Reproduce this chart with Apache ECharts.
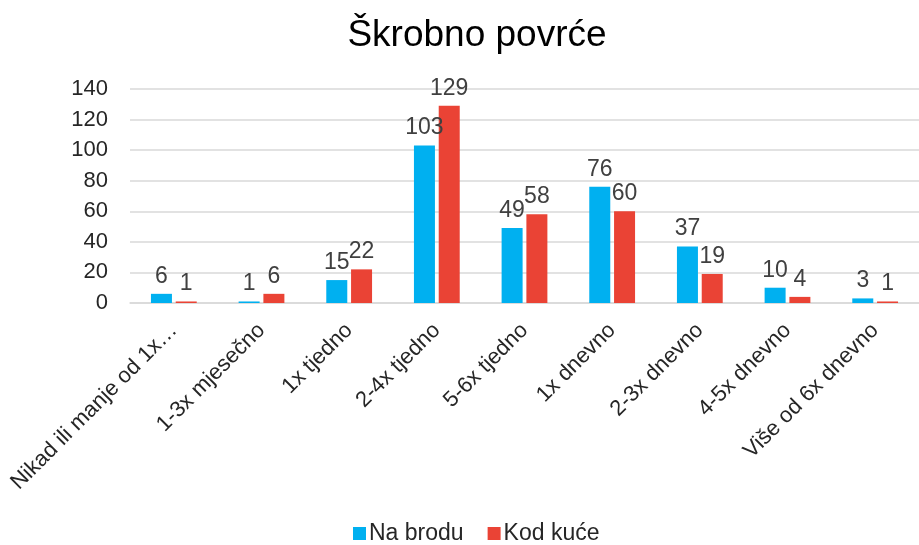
<!DOCTYPE html>
<html>
<head>
<meta charset="utf-8">
<script src="https://cdn.jsdelivr.net/npm/echarts@6/dist/echarts.min.js"></script>
<style>
  html, body { margin: 0; padding: 0; background: #fff; }
  #chart { width: 919px; height: 545px; }
</style>
</head>
<body>
<div id="chart"></div>
<script>
// podaci
var categories = ['Nikad ili manje od 1x…', '1-3x mjesečno', '1x tjedno', '2-4x tjedno', '5-6x tjedno',
  '1x dnevno', '2-3x dnevno', '4-5x dnevno', 'Više od 6x dnevno'];
var naBrodu = [6, 1, 15, 103, 49, 76, 37, 10, 3];
var kodKuce = [1, 6, 22, 129, 58, 60, 19, 4, 1];
var seriesNames = ['Na brodu', 'Kod kuće'];
var yTicks = [0, 20, 40, 60, 80, 100, 120, 140];

var font = 'Liberation Sans, Arial, sans-serif';
var chart = echarts.init(document.getElementById('chart'), null, { renderer: 'canvas' });

var labelStyle = {
  show: true,
  position: 'top',
  distance: 6,
  color: '#404040',
  fontSize: 23,
  fontFamily: font
};

var option = {
  animation: false,
  backgroundColor: '#fff',
  color: ['#00B0F0', '#EA4335'],
  title: {
    text: 'Škrobno povrće',
    left: 472,
    top: 12,
    textAlign: 'center',
    textStyle: { fontSize: 37, fontWeight: 'normal', color: '#000', fontFamily: font }
  },
  legend: {
    data: seriesNames,
    left: 348,
    top: 517,
    itemWidth: 13,
    itemHeight: 13,
    itemGap: 24,
    icon: 'rect',
    textStyle: { fontSize: 23, color: '#262626', fontFamily: font, padding: [0, 0, 0, -2] }
  },
  grid: {
    left: 130,
    right: -7,
    top: 89,
    height: 214,
    containLabel: false
  },
  xAxis: {
    type: 'category',
    data: categories,
    axisLine: { lineStyle: { color: '#d9d9d9', width: 1.5 } },
    axisTick: { show: false },
    axisLabel: {
      interval: 0,
      rotate: 45,
      margin: 24,
      color: '#262626',
      fontSize: 22,
      fontFamily: font
    }
  },
  yAxis: {
    type: 'value',
    min: yTicks[0],
    max: yTicks[yTicks.length - 1],
    interval: 20,
    axisLine: { show: false },
    axisTick: { show: false },
    splitLine: { lineStyle: { color: '#d9d9d9', width: 1.5 } },
    axisLabel: {
      margin: 22,
      color: '#262626',
      fontSize: 22,
      fontFamily: font
    }
  },
  series: [
    {
      name: seriesNames[0],
      type: 'bar',
      data: naBrodu,
      barWidth: 21,
      barGap: '18%',
      label: labelStyle
    },
    {
      name: seriesNames[1],
      type: 'bar',
      data: kodKuce,
      barWidth: 21,
      barGap: '18%',
      label: labelStyle
    }
  ]
};

chart.setOption(option);
</script>
</body>
</html>
